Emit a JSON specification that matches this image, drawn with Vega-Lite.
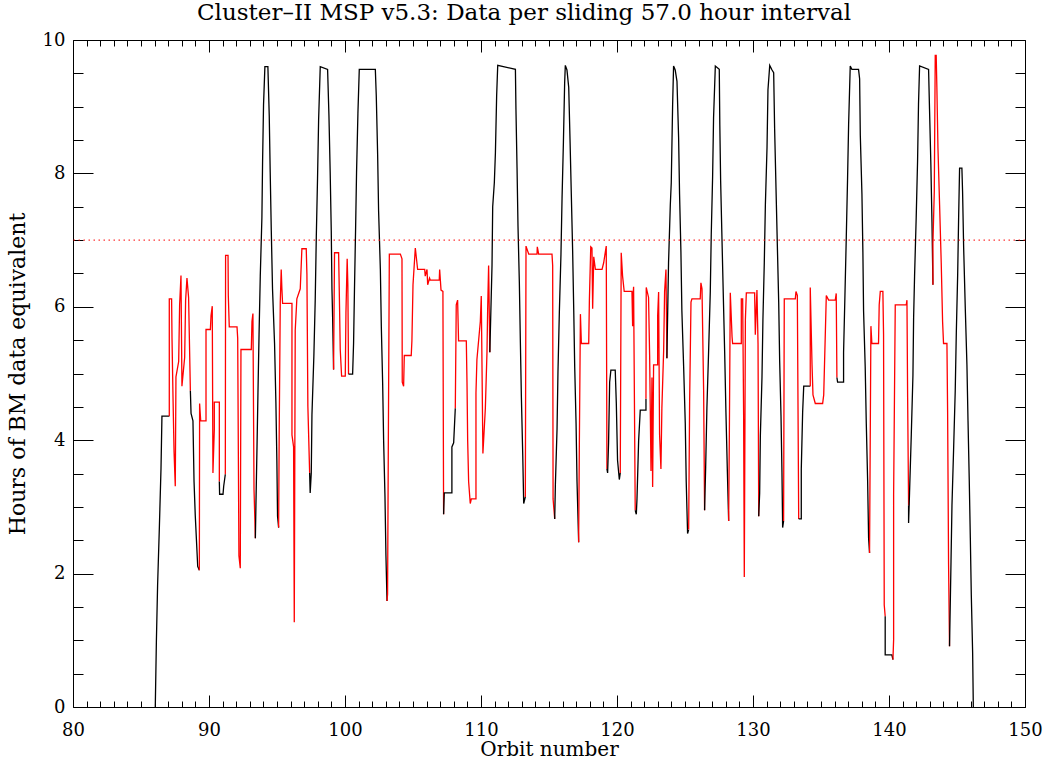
{
"$schema":"https://vega.github.io/schema/vega-lite/v6.json",
"width":952,"height":667,
"autosize":{"type":"none"},
"padding":{"left":73,"top":40,"right":23,"bottom":55},
"background":"white",
"title":{"text":"Cluster–II MSP v5.3: Data per sliding 57.0 hour interval","font":"DejaVu Serif","fontSize":23,"fontWeight":"normal","color":"#000","dx":-25,"offset":6},
"config":{"view":{"stroke":"#000","strokeWidth":1},"axis":{"domain":false,"grid":false,"labelFlush":false,"labelOverlap":false,"labelFont":"DejaVu Serif","labelFontSize":18,"labelColor":"#000","titleFont":"DejaVu Serif","titleFontSize":20,"titleFontWeight":"normal","titleColor":"#000","tickColor":"#000","tickWidth":1}},
"data":{"values":[
{"s":1,"c":"B","x":86.05,"y":0},{"s":1,"c":"B","x":86.13,"y":0.97},{"s":1,"c":"B","x":86.22,"y":1.82},{"s":1,"c":"B","x":86.35,"y":2.69},{"s":1,"c":"B","x":86.47,"y":3.57},{"s":1,"c":"B","x":86.54,"y":4.36},{"s":1,"c":"B","x":87.08,"y":4.36},
{"s":2,"c":"R","x":87.08,"y":4.36},{"s":2,"c":"R","x":87.08,"y":6.12},{"s":2,"c":"R","x":87.25,"y":6.12},{"s":2,"c":"R","x":87.28,"y":5.53},{"s":2,"c":"R","x":87.35,"y":4.68},{"s":2,"c":"R","x":87.43,"y":3.83},{"s":2,"c":"R","x":87.52,"y":3.31},{"s":2,"c":"R","x":87.57,"y":4.95},{"s":2,"c":"R","x":87.77,"y":5.18},{"s":2,"c":"R","x":87.84,"y":6.03},{"s":2,"c":"R","x":87.94,"y":6.47},{"s":2,"c":"R","x":88.01,"y":4.81},{"s":2,"c":"R","x":88.21,"y":5.24},{"s":2,"c":"R","x":88.28,"y":6.10},{"s":2,"c":"R","x":88.38,"y":6.43},{"s":2,"c":"R","x":88.50,"y":6.14},{"s":2,"c":"R","x":88.63,"y":4.74},
{"s":3,"c":"B","x":88.63,"y":4.74},{"s":3,"c":"B","x":88.68,"y":4.40},{"s":3,"c":"B","x":88.82,"y":4.29},{"s":3,"c":"B","x":88.90,"y":3.38},{"s":3,"c":"B","x":88.99,"y":2.87},{"s":3,"c":"B","x":89.17,"y":2.11},{"s":3,"c":"B","x":89.29,"y":2.05},
{"s":4,"c":"R","x":89.29,"y":2.05},{"s":4,"c":"R","x":89.31,"y":4.55},{"s":4,"c":"R","x":89.39,"y":4.29},{"s":4,"c":"R","x":89.78,"y":4.29},{"s":4,"c":"R","x":89.78,"y":5.66},{"s":4,"c":"R","x":90.10,"y":5.66},{"s":4,"c":"R","x":90.15,"y":5.87},{"s":4,"c":"R","x":90.24,"y":6.01},{"s":4,"c":"R","x":90.29,"y":3.51},{"s":4,"c":"R","x":90.39,"y":4.16},{"s":4,"c":"R","x":90.39,"y":4.57},{"s":4,"c":"R","x":90.76,"y":4.57},{"s":4,"c":"R","x":90.76,"y":3.38},
{"s":5,"c":"B","x":90.76,"y":3.38},{"s":5,"c":"B","x":90.78,"y":3.19},{"s":5,"c":"B","x":91.03,"y":3.19},{"s":5,"c":"B","x":91.08,"y":3.31},{"s":5,"c":"B","x":91.20,"y":3.49},
{"s":6,"c":"R","x":91.20,"y":3.49},{"s":6,"c":"R","x":91.22,"y":6.77},{"s":6,"c":"R","x":91.40,"y":6.77},{"s":6,"c":"R","x":91.42,"y":6.17},{"s":6,"c":"R","x":91.49,"y":5.70},{"s":6,"c":"R","x":92.06,"y":5.70},{"s":6,"c":"R","x":92.11,"y":5.53},{"s":6,"c":"R","x":92.20,"y":2.27},{"s":6,"c":"R","x":92.30,"y":2.08},{"s":6,"c":"R","x":92.35,"y":5.36},{"s":6,"c":"R","x":93.11,"y":5.36},{"s":6,"c":"R","x":93.16,"y":5.78},{"s":6,"c":"R","x":93.23,"y":5.90},{"s":6,"c":"R","x":93.31,"y":3.26},{"s":6,"c":"R","x":93.41,"y":2.53},
{"s":7,"c":"B","x":93.41,"y":2.53},{"s":7,"c":"B","x":93.45,"y":3.02},{"s":7,"c":"B","x":93.53,"y":3.90},{"s":7,"c":"B","x":93.60,"y":4.71},{"s":7,"c":"B","x":93.68,"y":5.58},{"s":7,"c":"B","x":93.77,"y":6.46},{"s":7,"c":"B","x":93.89,"y":7.34},{"s":7,"c":"B","x":93.94,"y":8.18},{"s":7,"c":"B","x":94.01,"y":9.03},{"s":7,"c":"B","x":94.11,"y":9.60},{"s":7,"c":"B","x":94.33,"y":9.60},{"s":7,"c":"B","x":94.43,"y":8.86},{"s":7,"c":"B","x":94.50,"y":8.02},{"s":7,"c":"B","x":94.58,"y":7.14},{"s":7,"c":"B","x":94.67,"y":6.27},{"s":7,"c":"B","x":94.82,"y":5.45},{"s":7,"c":"B","x":94.92,"y":4.55},{"s":7,"c":"B","x":94.99,"y":3.70},{"s":7,"c":"B","x":95.04,"y":2.86},{"s":7,"c":"B","x":95.12,"y":2.69},
{"s":8,"c":"R","x":95.12,"y":2.69},{"s":8,"c":"R","x":95.16,"y":4.06},{"s":8,"c":"R","x":95.24,"y":6.07},{"s":8,"c":"R","x":95.31,"y":6.56},{"s":8,"c":"R","x":95.36,"y":6.27},{"s":8,"c":"R","x":95.41,"y":6.05},{"s":8,"c":"R","x":96.10,"y":6.05},{"s":8,"c":"R","x":96.10,"y":4.08},{"s":8,"c":"R","x":96.22,"y":3.90},{"s":8,"c":"R","x":96.27,"y":1.27},{"s":8,"c":"R","x":96.34,"y":5.65},{"s":8,"c":"R","x":96.46,"y":6.12},{"s":8,"c":"R","x":96.71,"y":6.27},{"s":8,"c":"R","x":96.83,"y":6.87},{"s":8,"c":"R","x":97.15,"y":6.87},{"s":8,"c":"R","x":97.20,"y":6.49},{"s":8,"c":"R","x":97.27,"y":4.51},{"s":8,"c":"R","x":97.40,"y":3.51},
{"s":9,"c":"B","x":97.40,"y":3.51},{"s":9,"c":"B","x":97.44,"y":3.21},{"s":9,"c":"B","x":97.52,"y":3.51},{"s":9,"c":"B","x":97.57,"y":4.38},{"s":9,"c":"B","x":97.71,"y":5.26},{"s":9,"c":"B","x":97.81,"y":6.10},{"s":9,"c":"B","x":97.89,"y":7.05},{"s":9,"c":"B","x":97.98,"y":7.92},{"s":9,"c":"B","x":98.06,"y":8.80},{"s":9,"c":"B","x":98.18,"y":9.60},{"s":9,"c":"B","x":98.72,"y":9.56},{"s":9,"c":"B","x":98.82,"y":8.86},{"s":9,"c":"B","x":98.91,"y":8.02},{"s":9,"c":"B","x":98.99,"y":7.14},{"s":9,"c":"B","x":99.04,"y":6.27},{"s":9,"c":"B","x":99.09,"y":5.84},{"s":9,"c":"B","x":99.16,"y":5.06},
{"s":10,"c":"R","x":99.16,"y":5.06},{"s":10,"c":"R","x":99.23,"y":6.81},{"s":10,"c":"R","x":99.53,"y":6.81},{"s":10,"c":"R","x":99.58,"y":6.23},{"s":10,"c":"R","x":99.65,"y":5.36},{"s":10,"c":"R","x":99.75,"y":4.96},{"s":10,"c":"R","x":100.02,"y":4.96},{"s":10,"c":"R","x":100.07,"y":5.91},{"s":10,"c":"R","x":100.16,"y":6.72},{"s":10,"c":"R","x":100.21,"y":6.33},{"s":10,"c":"R","x":100.26,"y":4.99},
{"s":11,"c":"B","x":100.26,"y":4.99},{"s":11,"c":"B","x":100.56,"y":4.99},{"s":11,"c":"B","x":100.63,"y":5.45},{"s":11,"c":"B","x":100.70,"y":6.30},{"s":11,"c":"B","x":100.78,"y":7.18},{"s":11,"c":"B","x":100.85,"y":8.02},{"s":11,"c":"B","x":100.95,"y":8.90},{"s":11,"c":"B","x":101.05,"y":9.56},{"s":11,"c":"B","x":102.23,"y":9.56},{"s":11,"c":"B","x":102.30,"y":9.16},{"s":11,"c":"B","x":102.40,"y":8.28},{"s":11,"c":"B","x":102.47,"y":7.44},{"s":11,"c":"B","x":102.60,"y":6.56},{"s":11,"c":"B","x":102.67,"y":5.71},{"s":11,"c":"B","x":102.77,"y":4.84},{"s":11,"c":"B","x":102.84,"y":3.99},{"s":11,"c":"B","x":102.94,"y":3.15},{"s":11,"c":"B","x":103.01,"y":2.27},{"s":11,"c":"B","x":103.09,"y":1.59},
{"s":12,"c":"R","x":103.09,"y":1.59},{"s":12,"c":"R","x":103.13,"y":1.69},{"s":12,"c":"R","x":103.18,"y":3.70},{"s":12,"c":"R","x":103.26,"y":6.79},{"s":12,"c":"R","x":104.07,"y":6.79},{"s":12,"c":"R","x":104.19,"y":6.72},{"s":12,"c":"R","x":104.21,"y":4.87},{"s":12,"c":"R","x":104.31,"y":4.81},{"s":12,"c":"R","x":104.36,"y":5.27},{"s":12,"c":"R","x":104.87,"y":5.27},{"s":12,"c":"R","x":104.92,"y":5.49},{"s":12,"c":"R","x":105.00,"y":6.33},{"s":12,"c":"R","x":105.07,"y":6.56},{"s":12,"c":"R","x":105.17,"y":6.88},{"s":12,"c":"R","x":105.24,"y":6.75},{"s":12,"c":"R","x":105.34,"y":6.56},{"s":12,"c":"R","x":105.86,"y":6.56},{"s":12,"c":"R","x":105.90,"y":6.46},{"s":12,"c":"R","x":106.03,"y":6.56},{"s":12,"c":"R","x":106.08,"y":6.33},{"s":12,"c":"R","x":106.22,"y":6.43},{"s":12,"c":"R","x":106.27,"y":6.40},{"s":12,"c":"R","x":106.93,"y":6.40},{"s":12,"c":"R","x":106.96,"y":6.56},{"s":12,"c":"R","x":107.06,"y":6.25},{"s":12,"c":"R","x":107.20,"y":6.23},{"s":12,"c":"R","x":107.25,"y":2.89},
{"s":13,"c":"B","x":107.25,"y":2.89},{"s":13,"c":"B","x":107.30,"y":3.21},{"s":13,"c":"B","x":107.86,"y":3.21},{"s":13,"c":"B","x":107.86,"y":3.90},{"s":13,"c":"B","x":107.99,"y":3.96},{"s":13,"c":"B","x":108.11,"y":4.48},
{"s":14,"c":"R","x":108.11,"y":4.48},{"s":14,"c":"R","x":108.18,"y":6.03},{"s":14,"c":"R","x":108.28,"y":6.10},{"s":14,"c":"R","x":108.35,"y":5.49},{"s":14,"c":"R","x":108.92,"y":5.49},{"s":14,"c":"R","x":108.97,"y":4.87},{"s":14,"c":"R","x":109.02,"y":3.99},{"s":14,"c":"R","x":109.09,"y":3.38},{"s":14,"c":"R","x":109.21,"y":3.05},{"s":14,"c":"R","x":109.29,"y":3.12},{"s":14,"c":"R","x":109.63,"y":3.12},{"s":14,"c":"R","x":109.63,"y":4.71},{"s":14,"c":"R","x":109.70,"y":5.21},{"s":14,"c":"R","x":109.95,"y":5.78},{"s":14,"c":"R","x":110.02,"y":6.16},{"s":14,"c":"R","x":110.14,"y":3.80},{"s":14,"c":"R","x":110.32,"y":4.48},{"s":14,"c":"R","x":110.44,"y":5.32},{"s":14,"c":"R","x":110.49,"y":5.97},{"s":14,"c":"R","x":110.56,"y":6.62},{"s":14,"c":"R","x":110.65,"y":5.32},
{"s":15,"c":"B","x":110.65,"y":5.32},{"s":15,"c":"B","x":110.81,"y":6.62},{"s":15,"c":"B","x":110.86,"y":7.50},{"s":15,"c":"B","x":110.98,"y":7.86},{"s":15,"c":"B","x":111.06,"y":8.31},{"s":15,"c":"B","x":111.15,"y":9.16},{"s":15,"c":"B","x":111.23,"y":9.62},{"s":15,"c":"B","x":112.53,"y":9.56},{"s":15,"c":"B","x":112.57,"y":8.96},{"s":15,"c":"B","x":112.65,"y":8.08},{"s":15,"c":"B","x":112.72,"y":7.21},{"s":15,"c":"B","x":112.82,"y":6.36},{"s":15,"c":"B","x":112.89,"y":5.52},{"s":15,"c":"B","x":112.97,"y":4.64},{"s":15,"c":"B","x":113.07,"y":3.77},{"s":15,"c":"B","x":113.14,"y":3.05},{"s":15,"c":"B","x":113.26,"y":3.15},
{"s":16,"c":"R","x":113.26,"y":3.15},{"s":16,"c":"R","x":113.31,"y":6.91},{"s":16,"c":"R","x":113.51,"y":6.79},{"s":16,"c":"R","x":114.12,"y":6.79},{"s":16,"c":"R","x":114.14,"y":6.90},{"s":16,"c":"R","x":114.24,"y":6.79},{"s":16,"c":"R","x":115.22,"y":6.79},{"s":16,"c":"R","x":115.27,"y":6.62},{"s":16,"c":"R","x":115.30,"y":3.12},{"s":16,"c":"R","x":115.42,"y":2.82},
{"s":17,"c":"B","x":115.42,"y":2.82},{"s":17,"c":"B","x":115.47,"y":3.34},{"s":17,"c":"B","x":115.59,"y":4.16},{"s":17,"c":"B","x":115.66,"y":5.03},{"s":17,"c":"B","x":115.76,"y":5.91},{"s":17,"c":"B","x":115.88,"y":6.79},{"s":17,"c":"B","x":115.96,"y":7.63},{"s":17,"c":"B","x":116.06,"y":8.47},{"s":17,"c":"B","x":116.15,"y":9.35},{"s":17,"c":"B","x":116.20,"y":9.62},{"s":17,"c":"B","x":116.32,"y":9.55},{"s":17,"c":"B","x":116.45,"y":9.29},{"s":17,"c":"B","x":116.55,"y":8.47},{"s":17,"c":"B","x":116.64,"y":7.69},{"s":17,"c":"B","x":116.74,"y":6.82},{"s":17,"c":"B","x":116.82,"y":5.94},{"s":17,"c":"B","x":116.89,"y":5.10},{"s":17,"c":"B","x":116.99,"y":4.25},{"s":17,"c":"B","x":117.06,"y":3.38},{"s":17,"c":"B","x":117.18,"y":2.47},
{"s":18,"c":"R","x":117.18,"y":2.47},{"s":18,"c":"R","x":117.23,"y":3.90},{"s":18,"c":"R","x":117.31,"y":5.89},{"s":18,"c":"R","x":117.38,"y":5.45},{"s":18,"c":"R","x":117.92,"y":5.45},{"s":18,"c":"R","x":117.97,"y":6.10},{"s":18,"c":"R","x":118.07,"y":6.90},{"s":18,"c":"R","x":118.16,"y":6.88},{"s":18,"c":"R","x":118.21,"y":5.97},{"s":18,"c":"R","x":118.29,"y":6.75},{"s":18,"c":"R","x":118.41,"y":6.56},{"s":18,"c":"R","x":118.90,"y":6.56},{"s":18,"c":"R","x":119.02,"y":6.66},{"s":18,"c":"R","x":119.14,"y":6.82},{"s":18,"c":"R","x":119.21,"y":6.91},{"s":18,"c":"R","x":119.26,"y":3.57},
{"s":19,"c":"B","x":119.26,"y":3.57},{"s":19,"c":"B","x":119.31,"y":3.51},{"s":19,"c":"B","x":119.38,"y":3.96},{"s":19,"c":"B","x":119.46,"y":4.87},{"s":19,"c":"B","x":119.55,"y":5.05},{"s":19,"c":"B","x":119.87,"y":5.05},{"s":19,"c":"B","x":119.95,"y":4.55},{"s":19,"c":"B","x":120.04,"y":3.70},{"s":19,"c":"B","x":120.17,"y":3.41},{"s":19,"c":"B","x":120.24,"y":3.51},
{"s":20,"c":"R","x":120.24,"y":3.51},{"s":20,"c":"R","x":120.31,"y":6.81},{"s":20,"c":"R","x":120.41,"y":6.46},{"s":20,"c":"R","x":120.53,"y":6.23},{"s":20,"c":"R","x":121.10,"y":6.23},{"s":20,"c":"R","x":121.15,"y":5.71},{"s":20,"c":"R","x":121.17,"y":6.10},{"s":20,"c":"R","x":121.22,"y":6.30},{"s":20,"c":"R","x":121.34,"y":2.95},
{"s":21,"c":"B","x":121.34,"y":2.95},{"s":21,"c":"B","x":121.42,"y":2.89},{"s":21,"c":"B","x":121.47,"y":3.12},{"s":21,"c":"B","x":121.59,"y":3.99},{"s":21,"c":"B","x":121.71,"y":4.45},{"s":21,"c":"B","x":122.13,"y":4.45},{"s":21,"c":"B","x":122.13,"y":4.62},
{"s":22,"c":"R","x":122.13,"y":4.62},{"s":22,"c":"R","x":122.15,"y":6.29},{"s":22,"c":"R","x":122.32,"y":6.14},{"s":22,"c":"R","x":122.40,"y":5.27},{"s":22,"c":"R","x":122.50,"y":3.54},{"s":22,"c":"R","x":122.57,"y":4.94},{"s":22,"c":"R","x":122.62,"y":3.30},{"s":22,"c":"R","x":122.69,"y":5.13},{"s":22,"c":"R","x":122.99,"y":5.13},{"s":22,"c":"R","x":122.99,"y":5.87},{"s":22,"c":"R","x":123.06,"y":6.22},{"s":22,"c":"R","x":123.13,"y":4.09},{"s":22,"c":"R","x":123.23,"y":3.57},{"s":22,"c":"R","x":123.30,"y":4.48},{"s":22,"c":"R","x":123.43,"y":5.34},{"s":22,"c":"R","x":123.50,"y":6.23},{"s":22,"c":"R","x":123.60,"y":6.56},{"s":22,"c":"R","x":123.67,"y":5.23},
{"s":23,"c":"B","x":123.67,"y":5.23},{"s":23,"c":"B","x":123.72,"y":5.84},{"s":23,"c":"B","x":123.79,"y":6.66},{"s":23,"c":"B","x":123.92,"y":7.53},{"s":23,"c":"B","x":123.99,"y":7.86},{"s":23,"c":"B","x":124.09,"y":9.03},{"s":23,"c":"B","x":124.16,"y":9.61},{"s":23,"c":"B","x":124.28,"y":9.55},{"s":23,"c":"B","x":124.41,"y":9.38},{"s":23,"c":"B","x":124.53,"y":8.54},{"s":23,"c":"B","x":124.60,"y":7.69},{"s":23,"c":"B","x":124.70,"y":6.82},{"s":23,"c":"B","x":124.77,"y":5.94},{"s":23,"c":"B","x":124.90,"y":5.10},{"s":23,"c":"B","x":125.02,"y":4.25},{"s":23,"c":"B","x":125.09,"y":3.38},{"s":23,"c":"B","x":125.19,"y":2.60},{"s":23,"c":"B","x":125.27,"y":2.66},
{"s":24,"c":"R","x":125.27,"y":2.66},{"s":24,"c":"R","x":125.34,"y":4.58},{"s":24,"c":"R","x":125.44,"y":6.07},{"s":24,"c":"R","x":125.51,"y":6.12},{"s":24,"c":"R","x":126.12,"y":6.12},{"s":24,"c":"R","x":126.17,"y":6.36},{"s":24,"c":"R","x":126.25,"y":6.27},{"s":24,"c":"R","x":126.37,"y":4.74},{"s":24,"c":"R","x":126.44,"y":2.95},
{"s":25,"c":"B","x":126.44,"y":2.95},{"s":25,"c":"B","x":126.52,"y":3.60},{"s":25,"c":"B","x":126.61,"y":4.48},{"s":25,"c":"B","x":126.74,"y":5.36},{"s":25,"c":"B","x":126.86,"y":6.23},{"s":25,"c":"B","x":126.93,"y":7.08},{"s":25,"c":"B","x":127.03,"y":7.95},{"s":25,"c":"B","x":127.10,"y":8.83},{"s":25,"c":"B","x":127.23,"y":9.61},{"s":25,"c":"B","x":127.52,"y":9.56},{"s":25,"c":"B","x":127.56,"y":8.73},{"s":25,"c":"B","x":127.62,"y":7.89},{"s":25,"c":"B","x":127.72,"y":7.01},{"s":25,"c":"B","x":127.82,"y":6.14},{"s":25,"c":"B","x":127.92,"y":5.29},{"s":25,"c":"B","x":128.01,"y":4.42},{"s":25,"c":"B","x":128.11,"y":3.57},{"s":25,"c":"B","x":128.21,"y":2.79},
{"s":26,"c":"R","x":128.21,"y":2.79},{"s":26,"c":"R","x":128.26,"y":4.06},{"s":26,"c":"R","x":128.33,"y":6.21},{"s":26,"c":"R","x":128.46,"y":5.55},{"s":26,"c":"R","x":128.50,"y":5.45},{"s":26,"c":"R","x":129.14,"y":5.45},{"s":26,"c":"R","x":129.14,"y":6.12},{"s":26,"c":"R","x":129.24,"y":6.12},{"s":26,"c":"R","x":129.31,"y":4.38},{"s":26,"c":"R","x":129.36,"y":1.95},{"s":26,"c":"R","x":129.44,"y":5.81},{"s":26,"c":"R","x":129.51,"y":6.21},{"s":26,"c":"R","x":130.12,"y":6.21},{"s":26,"c":"R","x":130.17,"y":5.58},{"s":26,"c":"R","x":130.29,"y":6.25},{"s":26,"c":"R","x":130.37,"y":5.45},{"s":26,"c":"R","x":130.42,"y":2.86},
{"s":27,"c":"B","x":130.42,"y":2.86},{"s":27,"c":"B","x":130.49,"y":3.21},{"s":27,"c":"B","x":130.54,"y":4.06},{"s":27,"c":"B","x":130.66,"y":4.94},{"s":27,"c":"B","x":130.73,"y":5.81},{"s":27,"c":"B","x":130.83,"y":6.66},{"s":27,"c":"B","x":130.91,"y":7.53},{"s":27,"c":"B","x":131.03,"y":8.38},{"s":27,"c":"B","x":131.10,"y":9.25},{"s":27,"c":"B","x":131.23,"y":9.62},{"s":27,"c":"B","x":131.40,"y":9.55},{"s":27,"c":"B","x":131.52,"y":9.51},{"s":27,"c":"B","x":131.59,"y":8.67},{"s":27,"c":"B","x":131.69,"y":7.79},{"s":27,"c":"B","x":131.79,"y":6.92},{"s":27,"c":"B","x":131.89,"y":6.07},{"s":27,"c":"B","x":131.96,"y":5.19},{"s":27,"c":"B","x":132.06,"y":4.35},{"s":27,"c":"B","x":132.13,"y":3.51},{"s":27,"c":"B","x":132.18,"y":2.69},{"s":27,"c":"B","x":132.25,"y":2.79},
{"s":28,"c":"R","x":132.25,"y":2.79},{"s":28,"c":"R","x":132.30,"y":6.12},{"s":28,"c":"R","x":133.11,"y":6.12},{"s":28,"c":"R","x":133.16,"y":6.23},{"s":28,"c":"R","x":133.26,"y":6.17},{"s":28,"c":"R","x":133.36,"y":2.82},
{"s":29,"c":"B","x":133.36,"y":2.82},{"s":29,"c":"B","x":133.55,"y":2.82},{"s":29,"c":"B","x":133.55,"y":3.57},{"s":29,"c":"B","x":133.65,"y":4.42},{"s":29,"c":"B","x":133.73,"y":4.81},{"s":29,"c":"B","x":134.21,"y":4.81},
{"s":30,"c":"R","x":134.21,"y":4.81},{"s":30,"c":"R","x":134.21,"y":6.29},{"s":30,"c":"R","x":134.34,"y":5.13},{"s":30,"c":"R","x":134.41,"y":4.68},{"s":30,"c":"R","x":134.58,"y":4.55},{"s":30,"c":"R","x":135.12,"y":4.55},{"s":30,"c":"R","x":135.20,"y":4.68},{"s":30,"c":"R","x":135.32,"y":5.62},{"s":30,"c":"R","x":135.39,"y":6.17},{"s":30,"c":"R","x":135.56,"y":6.10},{"s":30,"c":"R","x":136.05,"y":6.10},{"s":30,"c":"R","x":136.12,"y":6.20},{"s":30,"c":"R","x":136.17,"y":4.94},
{"s":31,"c":"B","x":136.17,"y":4.94},{"s":31,"c":"B","x":136.22,"y":4.87},{"s":31,"c":"B","x":136.66,"y":4.87},{"s":31,"c":"B","x":136.66,"y":5.32},{"s":31,"c":"B","x":136.76,"y":6.17},{"s":31,"c":"B","x":136.86,"y":7.05},{"s":31,"c":"B","x":136.95,"y":7.89},{"s":31,"c":"B","x":137.03,"y":8.73},{"s":31,"c":"B","x":137.15,"y":9.61},{"s":31,"c":"B","x":137.27,"y":9.56},{"s":31,"c":"B","x":137.76,"y":9.56},{"s":31,"c":"B","x":137.84,"y":9.42},{"s":31,"c":"B","x":137.89,"y":8.57},{"s":31,"c":"B","x":138.01,"y":7.69},{"s":31,"c":"B","x":138.08,"y":6.82},{"s":31,"c":"B","x":138.13,"y":5.94},{"s":31,"c":"B","x":138.25,"y":5.10},{"s":31,"c":"B","x":138.33,"y":4.25},{"s":31,"c":"B","x":138.43,"y":3.38},{"s":31,"c":"B","x":138.50,"y":2.53},{"s":31,"c":"B","x":138.57,"y":2.31},
{"s":32,"c":"R","x":138.57,"y":2.31},{"s":32,"c":"R","x":138.67,"y":5.71},{"s":32,"c":"R","x":138.74,"y":5.45},{"s":32,"c":"R","x":139.23,"y":5.45},{"s":32,"c":"R","x":139.28,"y":6.03},{"s":32,"c":"R","x":139.36,"y":6.23},{"s":32,"c":"R","x":139.55,"y":6.23},{"s":32,"c":"R","x":139.60,"y":5.58},{"s":32,"c":"R","x":139.65,"y":1.53},{"s":32,"c":"R","x":139.72,"y":1.36},
{"s":33,"c":"B","x":139.72,"y":1.36},{"s":33,"c":"B","x":139.72,"y":0.78},{"s":33,"c":"B","x":140.21,"y":0.78},{"s":33,"c":"B","x":140.29,"y":0.71},
{"s":34,"c":"R","x":140.29,"y":0.71},{"s":34,"c":"R","x":140.34,"y":1.01},{"s":34,"c":"R","x":140.34,"y":3.18},{"s":34,"c":"R","x":140.46,"y":6.03},{"s":34,"c":"R","x":141.27,"y":6.03},{"s":34,"c":"R","x":141.32,"y":6.10},{"s":34,"c":"R","x":141.37,"y":4.64},{"s":34,"c":"R","x":141.44,"y":3.02},
{"s":35,"c":"B","x":141.44,"y":3.02},{"s":35,"c":"B","x":141.44,"y":2.76},{"s":35,"c":"B","x":141.51,"y":3.21},{"s":35,"c":"B","x":141.64,"y":4.09},{"s":35,"c":"B","x":141.76,"y":4.97},{"s":35,"c":"B","x":141.81,"y":5.84},{"s":35,"c":"B","x":141.88,"y":6.46},{"s":35,"c":"B","x":142.00,"y":7.34},{"s":35,"c":"B","x":142.10,"y":8.18},{"s":35,"c":"B","x":142.17,"y":9.04},{"s":35,"c":"B","x":142.25,"y":9.61},{"s":35,"c":"B","x":142.91,"y":9.56},{"s":35,"c":"B","x":142.98,"y":8.96},{"s":35,"c":"B","x":143.08,"y":8.12},{"s":35,"c":"B","x":143.16,"y":7.27},{"s":35,"c":"B","x":143.23,"y":6.33},
{"s":36,"c":"R","x":143.23,"y":6.33},{"s":36,"c":"R","x":143.23,"y":6.95},{"s":36,"c":"R","x":143.33,"y":7.73},{"s":36,"c":"R","x":143.40,"y":9.77},{"s":36,"c":"R","x":143.47,"y":9.77},{"s":36,"c":"R","x":143.52,"y":9.29},{"s":36,"c":"R","x":143.60,"y":8.38},{"s":36,"c":"R","x":143.72,"y":7.53},{"s":36,"c":"R","x":143.84,"y":6.66},{"s":36,"c":"R","x":143.94,"y":5.78},{"s":36,"c":"R","x":144.01,"y":5.45},{"s":36,"c":"R","x":144.26,"y":5.45},{"s":36,"c":"R","x":144.31,"y":4.42},{"s":36,"c":"R","x":144.38,"y":2.14},{"s":36,"c":"R","x":144.45,"y":0.91},
{"s":37,"c":"B","x":144.45,"y":0.91},{"s":37,"c":"B","x":144.56,"y":2.18},{"s":37,"c":"B","x":144.63,"y":3.02},{"s":37,"c":"B","x":144.75,"y":3.86},{"s":37,"c":"B","x":144.87,"y":4.74},{"s":37,"c":"B","x":144.95,"y":5.62},{"s":37,"c":"B","x":145.05,"y":6.49},{"s":37,"c":"B","x":145.12,"y":7.34},{"s":37,"c":"B","x":145.19,"y":8.08},{"s":37,"c":"B","x":145.36,"y":8.08},{"s":37,"c":"B","x":145.41,"y":7.73},{"s":37,"c":"B","x":145.49,"y":6.88},{"s":37,"c":"B","x":145.61,"y":5.97},{"s":37,"c":"B","x":145.73,"y":5.13},{"s":37,"c":"B","x":145.81,"y":4.29},{"s":37,"c":"B","x":145.90,"y":3.41},{"s":37,"c":"B","x":145.98,"y":2.53},{"s":37,"c":"B","x":146.05,"y":1.69},{"s":37,"c":"B","x":146.15,"y":0.81},{"s":37,"c":"B","x":146.20,"y":0}
]},
"layer":[
{"mark":{"type":"line","strokeWidth":1.3,"clip":true},
 "encoding":{
  "x":{"field":"x","type":"quantitative","scale":{"domain":[80,150],"nice":false,"zero":false},"axis":{"orient":"bottom","values":[80,90,100,110,120,130,140,150],"ticks":false,"labelPadding":14,"title":"Orbit number","titlePadding":0}},
  "y":{"field":"y","type":"quantitative","scale":{"domain":[0,10],"nice":false,"zero":false},"axis":{"orient":"left","values":[0,2,4,6,8,10],"ticks":false,"labelPadding":8,"title":"Hours of BM data equivalent","titlePadding":13,"titleFontSize":22}},
  "color":{"field":"c","type":"nominal","scale":{"domain":["B","R"],"range":["#000000","#ff0000"]},"legend":null},
  "detail":{"field":"s","type":"nominal"},
  "order":{"value":null}
 }},
{"data":{"values":[{"t":7}]},"mark":{"type":"rule","color":"#ff0000","strokeWidth":1,"strokeDash":[1.5,3.5]},
 "encoding":{"y":{"field":"t","type":"quantitative","axis":null}}},
{"data":{"values":[{"x":80,"y":0}]},"mark":{"type":"point","opacity":0},
 "encoding":{
  "x":{"field":"x","type":"quantitative","axis":{"orient":"bottom","values":[80,90,100,110,120,130,140,150],"labels":false,"tickSize":-12,"title":null}},
  "y":{"field":"y","type":"quantitative","axis":{"orient":"left","values":[0,2,4,6,8,10],"labels":false,"tickSize":-20,"title":null}}}},
{"data":{"values":[{"x":80,"y":0}]},"mark":{"type":"point","opacity":0},
 "encoding":{
  "x":{"field":"x","type":"quantitative","axis":{"orient":"bottom","values":[81,82,83,84,85,86,87,88,89,91,92,93,94,95,96,97,98,99,101,102,103,104,105,106,107,108,109,111,112,113,114,115,116,117,118,119,121,122,123,124,125,126,127,128,129,131,132,133,134,135,136,137,138,139,141,142,143,144,145,146,147,148,149],"labels":false,"tickSize":-6,"title":null}},
  "y":{"field":"y","type":"quantitative","axis":{"orient":"left","values":[0.5,1,1.5,2.5,3,3.5,4.5,5,5.5,6.5,7,7.5,8.5,9,9.5],"labels":false,"tickSize":-10,"title":null}}}},
{"data":{"values":[{"x":80,"y":0}]},"mark":{"type":"point","opacity":0},
 "encoding":{
  "x":{"field":"x","type":"quantitative","axis":{"orient":"top","values":[80,90,100,110,120,130,140,150],"labels":false,"tickSize":-12,"title":null}},
  "y":{"field":"y","type":"quantitative","axis":{"orient":"right","values":[0,2,4,6,8,10],"labels":false,"tickSize":-20,"title":null}}}},
{"data":{"values":[{"x":80,"y":0}]},"mark":{"type":"point","opacity":0},
 "encoding":{
  "x":{"field":"x","type":"quantitative","axis":{"orient":"top","values":[81,82,83,84,85,86,87,88,89,91,92,93,94,95,96,97,98,99,101,102,103,104,105,106,107,108,109,111,112,113,114,115,116,117,118,119,121,122,123,124,125,126,127,128,129,131,132,133,134,135,136,137,138,139,141,142,143,144,145,146,147,148,149],"labels":false,"tickSize":-6,"title":null}},
  "y":{"field":"y","type":"quantitative","axis":{"orient":"right","values":[0.5,1,1.5,2.5,3,3.5,4.5,5,5.5,6.5,7,7.5,8.5,9,9.5],"labels":false,"tickSize":-10,"title":null}}}}
],
"resolve":{"axis":{"x":"independent","y":"independent"}}
}
